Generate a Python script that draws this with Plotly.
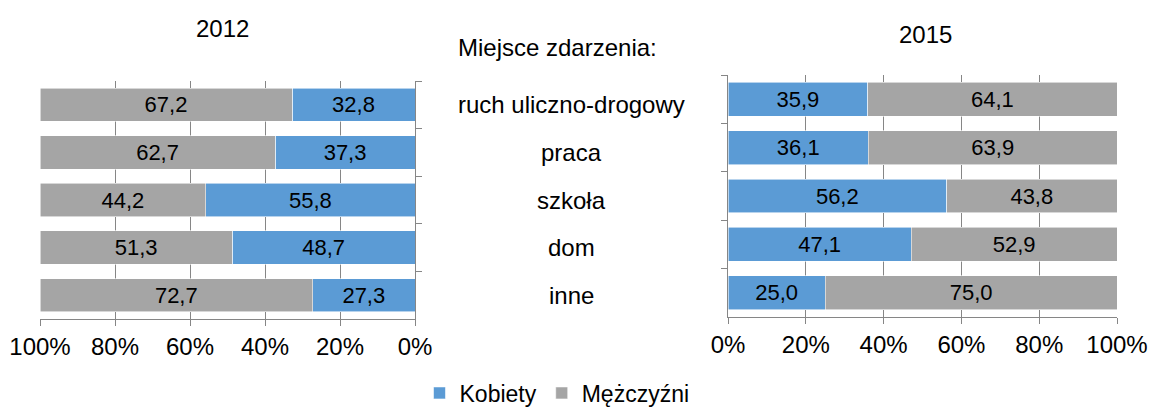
import plotly.graph_objects as go

categories = ["ruch uliczno-drogowy", "praca", "szkoła", "dom", "inne"]
kobiety_2012 = [32.8, 37.3, 55.8, 48.7, 27.3]
mezczyzni_2012 = [67.2, 62.7, 44.2, 51.3, 72.7]
kobiety_2015 = [35.9, 36.1, 56.2, 47.1, 25.0]
mezczyzni_2015 = [64.1, 63.9, 43.8, 52.9, 75.0]
x_ticks = [0, 20, 40, 60, 80, 100]
x_tick_labels = ["0%", "20%", "40%", "60%", "80%", "100%"]

BLUE = "#5B9BD5"
GRAY = "#A5A5A5"
LINE = "#868686"
FONT = "Liberation Sans, Arial, sans-serif"
W, H = 1149, 407


def fmt(vals):
    return [f"{v:.1f}".replace(".", ",") for v in vals]


def px(x):
    return x / W


def py(y):
    return 1 - y / H


fig = go.Figure()
series = [
    ("Kobiety", BLUE, kobiety_2012, kobiety_2015),
    ("Mężczyźni", GRAY, mezczyzni_2012, mezczyzni_2015),
]
for name, color, v12, v15 in series:
    fig.add_trace(go.Bar(
        y=categories, x=v12, orientation="h", name=name,
        marker=dict(color=color, line=dict(color="rgba(255,255,255,0.7)", width=0.8)),
        text=fmt(v12), textposition="inside", insidetextanchor="middle",
        textfont=dict(color="#000000", size=22, family=FONT),
        xaxis="x", yaxis="y", legendgroup=name, showlegend=True,
        hoverinfo="skip",
    ))
for name, color, v12, v15 in series:
    fig.add_trace(go.Bar(
        y=categories, x=v15, orientation="h", name=name,
        marker=dict(color=color, line=dict(color="rgba(255,255,255,0.7)", width=0.8)),
        text=fmt(v15), textposition="inside", insidetextanchor="middle",
        textfont=dict(color="#000000", size=22, family=FONT),
        xaxis="x2", yaxis="y2", legendgroup=name, showlegend=False,
        hoverinfo="skip",
    ))

xcommon = dict(
    tickmode="array", tickvals=x_ticks, ticktext=x_tick_labels,
    showgrid=True, gridcolor=LINE, gridwidth=1.3,
    showline=True, linecolor=LINE, linewidth=1.3,
    ticks="outside", ticklen=6, tickcolor=LINE, tickwidth=1.3,
    tickfont=dict(size=24, color="#000000", family=FONT),
    zeroline=False, fixedrange=True, automargin=False,
)
ycommon = dict(
    type="category", categoryorder="array", categoryarray=categories,
    autorange="reversed", showticklabels=False, showgrid=False,
    showline=True, linecolor=LINE, linewidth=1.3,
    ticks="outside", ticklen=6, tickcolor=LINE, tickwidth=1.3,
    tickson="boundaries", zeroline=False, fixedrange=True, automargin=False,
)

fig.update_layout(
    width=W, height=H,
    margin=dict(l=0, r=0, t=0, b=0, autoexpand=False),
    paper_bgcolor="white", plot_bgcolor="white",
    barmode="stack", bargap=0.3,
    font=dict(family=FONT, size=24, color="#000000"),
    xaxis=dict(domain=[px(40), px(415)], range=[100, 0], anchor="y", **xcommon),
    yaxis=dict(domain=[py(319), py(81)], anchor="x", side="right", **ycommon),
    xaxis2=dict(domain=[px(728), px(1117)], range=[0, 100], anchor="y2", **xcommon),
    yaxis2=dict(domain=[py(317), py(75)], anchor="x2", side="left", **ycommon),
    legend=dict(
        orientation="h", x=px(557), xanchor="center", y=py(393), yanchor="middle",
        font=dict(size=23, family=FONT, color="#000000"),
        itemwidth=30, traceorder="normal", bgcolor="rgba(0,0,0,0)",
    ),
    showlegend=True,
)

annotations = [
    dict(text="2012", x=px(222), y=py(28), xref="paper", yref="paper",
         xanchor="center", yanchor="middle", showarrow=False, font=dict(size=24)),
    dict(text="2015", x=px(925), y=py(35), xref="paper", yref="paper",
         xanchor="center", yanchor="middle", showarrow=False, font=dict(size=24)),
    dict(text="Miejsce zdarzenia:", x=px(557), y=py(47), xref="paper", yref="paper",
         xanchor="center", yanchor="middle", showarrow=False, font=dict(size=24)),
]
for c in categories:
    annotations.append(dict(text=c, x=px(571), y=c, xref="paper", yref="y",
                            xanchor="center", yanchor="middle",
                            showarrow=False, font=dict(size=24)))
fig.update_layout(annotations=annotations)

fig.write_html(
    "out.html",
    config={"displayModeBar": False},
    post_script="document.body.style.margin='0';document.body.style.overflow='hidden';",
)
